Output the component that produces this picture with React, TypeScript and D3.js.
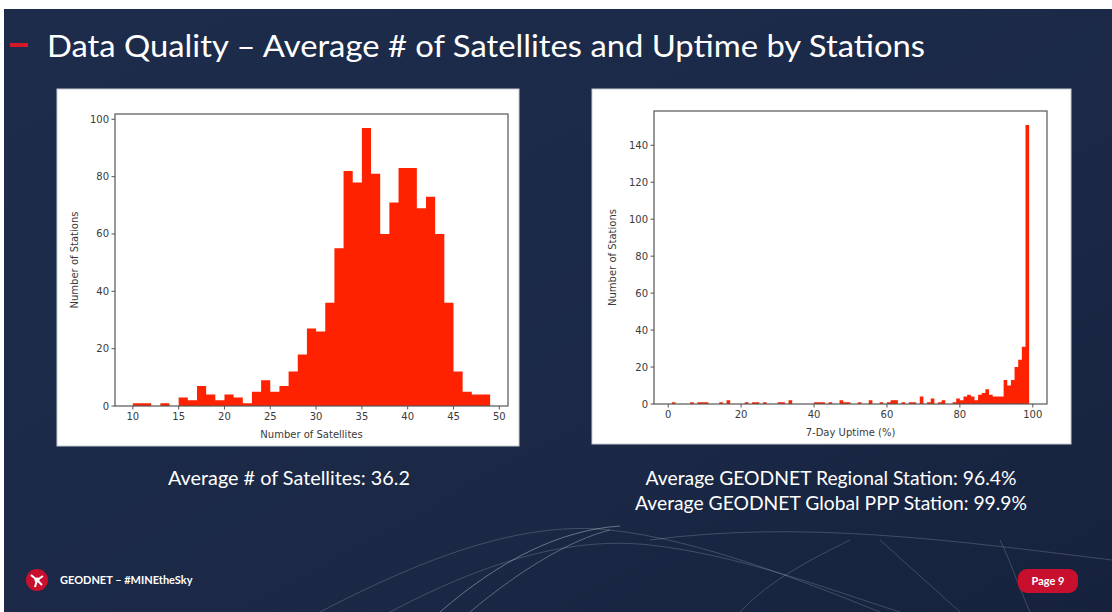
import React from "react";
import * as d3 from "d3";

// ---------- DATA ----------
// Left histogram: number of satellites, bins of width 1 starting at 10
const satBinStarts = [10, 11, 12, 13, 14, 15, 16, 17, 18, 19, 20, 21, 22, 23, 24, 25, 26, 27, 28, 29, 30, 31, 32, 33, 34, 35, 36, 37, 38, 39, 40, 41, 42, 43, 44, 45, 46, 47, 48];
const satCounts = [1, 1, 0, 1, 0, 3, 2, 7, 4, 2, 4, 3, 1, 5, 9, 5, 7, 12, 18, 27, 26, 36, 55, 82, 78, 97, 81, 60, 71, 83, 83, 69, 73, 60, 36, 12, 5, 4, 4];
const satXTicks = [10, 15, 20, 25, 30, 35, 40, 45, 50];
const satYTicks = [0, 20, 40, 60, 80, 100];

// Right histogram: 7-day uptime (%), bins of width 1 starting at 1
const upBinStarts = [
  1, 2, 3, 4, 5, 6, 7, 8, 9, 10, 11, 12, 13, 14, 15, 16, 17, 18, 19, 20,
  21, 22, 23, 24, 25, 26, 27, 28, 29, 30, 31, 32, 33, 34, 35, 36, 37, 38, 39, 40,
  41, 42, 43, 44, 45, 46, 47, 48, 49, 50, 51, 52, 53, 54, 55, 56, 57, 58, 59, 60,
  61, 62, 63, 64, 65, 66, 67, 68, 69, 70, 71, 72, 73, 74, 75, 76, 77, 78, 79, 80,
  81, 82, 83, 84, 85, 86, 87, 88, 89, 90, 91, 92, 93, 94, 95, 96, 97, 98,
];
const upCounts = [
  1, 0, 0, 0, 0, 1, 0, 1, 1, 1, 0, 0, 0, 1, 0, 2, 0, 0, 0, 0,
  1, 0, 1, 1, 0, 1, 0, 0, 0, 1, 1, 0, 2, 0, 0, 0, 0, 0, 0, 1,
  1, 1, 0, 1, 0, 0, 2, 1, 1, 0, 0, 1, 0, 0, 2, 0, 0, 1, 0, 1,
  2, 2, 0, 1, 0, 1, 1, 0, 4, 0, 1, 3, 0, 1, 2, 0, 0, 1, 3, 2,
  4, 5, 4, 2, 5, 6, 8, 5, 4, 4, 4, 13, 10, 13, 20, 24, 31, 151,
];
const upXTicks = [0, 20, 40, 60, 80, 100];
const upYTicks = [0, 20, 40, 60, 80, 100, 120, 140];

const titleText = "Data Quality \u2013 Average # of Satellites and Uptime by Stations";
const leftCaption = "Average # of Satellites: 36.2";
const rightCaption1 = "Average GEODNET Regional Station: 96.4%";
const rightCaption2 = "Average GEODNET Global PPP Station: 99.9%";
const footerText = "GEODNET \u2013 #MINEtheSky";
const pageText = "Page 9";

const BAR = "#ff2200";
const AXIS = "#555";
const TXT = "#3a3a3a";
const MPL_FONT = "'DejaVu Sans', sans-serif";

type HistProps = {
  starts: number[];
  counts: number[];
  width: number;
  xDomain: [number, number];
  yDomain: [number, number];
  x0: number; x1: number; y0: number; y1: number;
  xTicks: number[]; yTicks: number[];
  xLabel: string; yLabel: string;
  yLabelX: number; xLabelY: number;
};

function Hist(p: HistProps) {
  const x = d3.scaleLinear().domain(p.xDomain).range([p.x0, p.x1]);
  const y = d3.scaleLinear().domain(p.yDomain).range([p.y1, p.y0]);
  // all bars in one path so adjacent bars join without anti-aliasing seams
  const path = d3.path();
  p.starts.forEach((s, i) => {
    const c = p.counts[i];
    if (c <= 0) return;
    const xa = x(s), xb = x(s + p.width);
    path.rect(xa, y(c), xb - xa, y(0) - y(c));
  });
  return (
    <g>
      <path d={path.toString()} fill={BAR} />
      <rect x={p.x0} y={p.y0} width={p.x1 - p.x0} height={p.y1 - p.y0} fill="none" stroke={AXIS} strokeWidth={1.2} />
      {p.xTicks.map((t) => (
        <g key={"x" + t}>
          <line x1={x(t)} x2={x(t)} y1={p.y1} y2={p.y1 + 3.5} stroke={AXIS} />
          <text x={x(t)} y={p.y1 + 14} textAnchor="middle" fontSize={10} fill={TXT} fontFamily={MPL_FONT}>{t}</text>
        </g>
      ))}
      {p.yTicks.map((t) => (
        <g key={"y" + t}>
          <line x1={p.x0 - 3.5} x2={p.x0} y1={y(t)} y2={y(t)} stroke={AXIS} />
          <text x={p.x0 - 6} y={y(t) + 3.5} textAnchor="end" fontSize={10} fill={TXT} fontFamily={MPL_FONT}>{t}</text>
        </g>
      ))}
      <text x={(p.x0 + p.x1) / 2} y={p.xLabelY} textAnchor="middle" fontSize={10} fill={TXT} fontFamily={MPL_FONT}>{p.xLabel}</text>
      <text transform={`translate(${p.yLabelX},${(p.y0 + p.y1) / 2}) rotate(-90)`} textAnchor="middle" fontSize={10} fill={TXT} fontFamily={MPL_FONT}>{p.yLabel}</text>
    </g>
  );
}

export default function App() {
  const W = 1112, H = 612;
  const satMax = d3.max(satCounts) as number;
  const upMax = d3.max(upCounts) as number;
  const satLo = satBinStarts[0], satHi = satBinStarts[satBinStarts.length - 1] + 1;
  const upLo = upBinStarts[0], upHi = upBinStarts[upBinStarts.length - 1] + 1;
  const satM = (satHi - satLo) * 0.05;
  const upM = (upHi - upLo) * 0.05;
  const SANS = "Lato, 'Open Sans', sans-serif";
  return (
    <svg width={W} height={H} style={{ position: "fixed", left: 0, top: 0 }}>
      <defs>
        <linearGradient id="bg" x1="0" y1="0" x2="1" y2="1">
          <stop offset="0" stopColor="#1d2c4b" />
          <stop offset="0.6" stopColor="#1b2947" />
          <stop offset="1" stopColor="#16223d" />
        </linearGradient>
      </defs>
      <rect x={0} y={0} width={W} height={H} fill="#ffffff" />
      <rect x={4} y={9} width={W - 4} height={H - 9} fill="url(#bg)" />
      {/* wireframe decoration */}
      <g fill="none" stroke="#ffffff" strokeOpacity={0.18} strokeWidth={1}>
        <path d="M 320 612 C 420 560, 520 520, 610 530 C 700 540, 800 580, 880 612" />
        <path d="M 390 612 C 470 570, 560 535, 650 545 C 740 555, 830 590, 900 612" />
        <path d="M 440 612 C 500 560, 560 530, 620 526" strokeOpacity={0.35} />
        <path d="M 470 612 C 520 570, 570 540, 610 530" strokeOpacity={0.3} />
        <path d="M 740 612 C 770 580, 810 560, 850 540" />
        <path d="M 650 540 C 800 520, 950 540, 1112 560" />
        <path d="M 1000 540 C 1010 560, 1020 590, 1030 612" />
        <path d="M 880 540 L 960 612" />
      </g>
      {/* title */}
      <rect x={10} y={43} width={18} height={4} fill="#d3182b" />
      <text x={47} y={57} fontSize={31} fill="#ffffff" fontFamily={SANS} textLength={878} lengthAdjust="spacingAndGlyphs">{titleText}</text>

      {/* left panel */}
      <rect x={57} y={89} width={462} height={357} fill="#ffffff" stroke="#c8ccd4" strokeWidth={1} />
      <Hist
        starts={satBinStarts} counts={satCounts} width={1}
        xDomain={[satLo - satM, satHi + satM]} yDomain={[0, satMax * 1.05]}
        x0={115} x1={508} y0={114} y1={406}
        xTicks={satXTicks} yTicks={satYTicks}
        xLabel="Number of Satellites" yLabel="Number of Stations"
        yLabelX={78} xLabelY={438}
      />
      {/* right panel */}
      <rect x={592} y={89} width={479} height={355} fill="#ffffff" stroke="#c8ccd4" strokeWidth={1} />
      <Hist
        starts={upBinStarts} counts={upCounts} width={1}
        xDomain={[upLo - upM, upHi + upM]} yDomain={[0, upMax * 1.05]}
        x0={654} x1={1047} y0={111} y1={404}
        xTicks={upXTicks} yTicks={upYTicks}
        xLabel="7-Day Uptime (%)" yLabel="Number of Stations"
        yLabelX={616} xLabelY={436}
      />

      {/* captions */}
      <text x={289} y={485} textAnchor="middle" fontSize={19} fill="#ffffff" fontFamily={SANS} textLength={242} lengthAdjust="spacingAndGlyphs">{leftCaption}</text>
      <text x={831} y={485} textAnchor="middle" fontSize={19} fill="#ffffff" fontFamily={SANS} textLength={371} lengthAdjust="spacingAndGlyphs">{rightCaption1}</text>
      <text x={831} y={510} textAnchor="middle" fontSize={19} fill="#ffffff" fontFamily={SANS} textLength={392} lengthAdjust="spacingAndGlyphs">{rightCaption2}</text>

      {/* footer */}
      <circle cx={37} cy={580} r={11} fill="#c8102e" />
      <path d="M 31 575 L 37 580 L 43 576 M 37 580 L 35 587 M 37 580 L 42 585" stroke="#ffffff" strokeWidth={2} fill="none" />
      <circle cx={37} cy={580} r={2.5} fill="#ffffff" />
      <text x={60} y={584} fontSize={11} fontWeight="bold" fill="#ffffff" fontFamily={SANS}>{footerText}</text>
      <rect x={1018} y={569} width={60} height={24} rx={9} fill="#c8102e" />
      <text x={1048} y={585} textAnchor="middle" fontSize={11} fontWeight="bold" fill="#ffffff" fontFamily={SANS}>{pageText}</text>
    </svg>
  );
}
